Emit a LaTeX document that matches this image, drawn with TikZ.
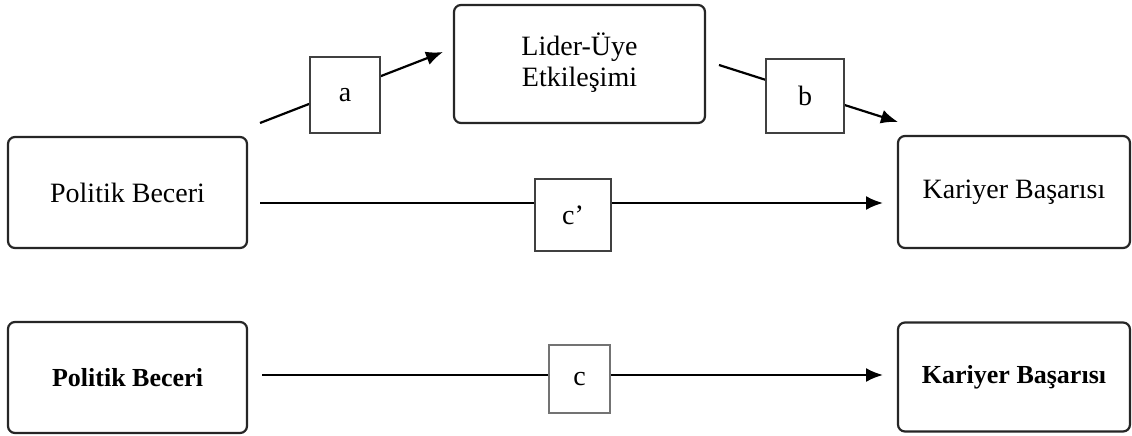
\documentclass[tikz,border=0pt]{standalone}
\usepackage{fontspec}
\setmainfont{Liberation Serif}
\usetikzlibrary{arrows.meta, positioning, backgrounds}

\begin{document}
\begin{tikzpicture}[%
    x=1pt, y=-1pt,
    >={Latex[length=17pt,width=14pt]},
    every node/.style={%
      font=\fontsize{28}{31}\selectfont,
      text=black,
      text centered,
      align=center,
      inner sep=0pt
    },
    varbox/.style={draw=black!85, line width=2.2pt, rounded corners=7pt,
      fill=white},
    pathbox/.style={draw=black!75, line width=1.6pt, fill=white},
    boldtext/.style={font=\fontsize{26}{30}\selectfont\bfseries},
    link/.style={line width=2.2pt, black}
  ]

  \useasboundingbox (0,0) rectangle (1132,436);

  % Mediation model
  \node[varbox, minimum width=251pt, minimum height=118pt]
    (lmx) at (579.5,64) {\raisebox{-4pt}{\begin{tabular}{@{}c@{}}Lider-Üye\\Etkileşimi\end{tabular}}};
  \node[varbox, minimum width=239pt, minimum height=111pt]
    (pb1) at (127.5,192.5) {Politik Beceri};
  \node[varbox, minimum width=232pt, minimum height=112pt]
    (kb1) at (1014,192) {Kariyer Başarısı};

  \coordinate (aS) at (260,123);
  \coordinate (aE) at (443,52);
  \coordinate (bS) at (719,65);
  \coordinate (bE) at (898,122);
  \coordinate (cpS) at (260,203);
  \coordinate (cpE) at (883,203);

  % Total effect
  \node[varbox, minimum width=239pt, minimum height=111pt, boldtext]
    (pb2) at (127.5,377.5) {Politik Beceri};
  \node[varbox, minimum width=232pt, minimum height=109pt, boldtext]
    (kb2) at (1014,377) {Kariyer Başarısı};

  \coordinate (cS) at (262,375);
  \coordinate (cE) at (883,375);

  % Path labels
  \node[pathbox, minimum width=70pt, minimum height=76pt] (la) at (345,95) {a};
  \node[pathbox, minimum width=78pt, minimum height=74pt] (lb) at (805,96) {b};
  \node[pathbox, minimum width=76pt, minimum height=72pt] (lcp) at (573,215) {c’};
  \node[pathbox, draw=black!55, minimum width=61pt, minimum height=68pt]
    (lc) at (579.5,379) {c};

  \begin{scope}[on background layer]
    \draw[link, ->] (aS) -- (aE);
    \draw[link, ->] (bS) -- (bE);
    \draw[link, ->] (cpS) -- (cpE);
    \draw[link, ->] (cS) -- (cE);
  \end{scope}

\end{tikzpicture}
\end{document}
